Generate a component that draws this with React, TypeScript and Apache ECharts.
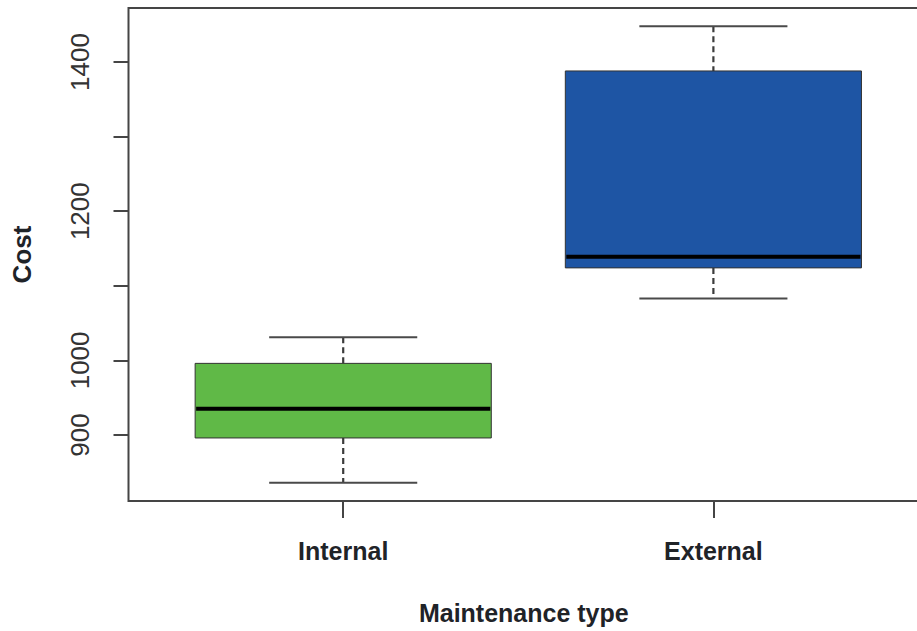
import React, { useEffect, useRef } from "react";
import * as echarts from "echarts";

const categories = ["Internal", "External"];
const lowerWhisker = [836, 1083];
const lowerQuartile = [896, 1124];
const medianValue = [935, 1139];
const upperQuartile = [996, 1388];
const upperWhisker = [1031, 1448];
const boxColors = ["#60B947", "#1E55A4"];

const yTickValues = [900, 1000, 1100, 1200, 1300, 1400];
const yLabelValues = [900, 1000, 1200, 1400];
const xTickValues = [1, 2];

export default function App() {
  const ref = useRef<HTMLDivElement>(null);
  useEffect(() => {
    document.body.style.margin = "0";
    const chart = echarts.init(ref.current!, null, { renderer: "svg" });
    const data = categories.map((c, i) => [
      i + 1,
      lowerWhisker[i],
      lowerQuartile[i],
      medianValue[i],
      upperQuartile[i],
      upperWhisker[i],
    ]);
    const font = "'Liberation Sans', Arial, sans-serif";
    const option: any = {
      animation: false,
      backgroundColor: "#ffffff",
      grid: {
        left: 128.5,
        top: 8,
        width: 799.6,
        height: 493,
        show: true,
        borderColor: "#454545",
        borderWidth: 2,
        backgroundColor: "transparent",
        outerBoundsMode: "none",
        containLabel: false,
      },
      xAxis: {
        type: "value",
        min: 0.42,
        max: 2.58,
        axisLine: { show: false },
        splitLine: { show: false },
        axisTick: {
          show: true,
          customValues: xTickValues,
          length: 17,
          lineStyle: { color: "#454545", width: 2 },
        },
        axisLabel: {
          customValues: xTickValues,
          formatter: (v: number) => categories[Math.round(v) - 1] ?? "",
          fontFamily: font,
          fontWeight: "bold",
          fontSize: 25,
          color: "#1f2328",
          margin: 37,
        },
        name: "Maintenance type",
        nameLocation: "middle",
        nameGap: 99,
        nameMoveOverlap: false,
        nameTextStyle: {
          fontFamily: font,
          fontWeight: "bold",
          fontSize: 25,
          color: "#1f2328",
          padding: [0, 9, 0, 0],
        },
      },
      yAxis: {
        type: "value",
        min: 811.5,
        max: 1472.4,
        axisLine: { show: false },
        splitLine: { show: false },
        axisTick: {
          show: true,
          customValues: yTickValues,
          length: 15,
          lineStyle: { color: "#454545", width: 2 },
        },
        axisLabel: {
          customValues: yLabelValues,
          formatter: (v: number) => String(v),
          rotate: 90,
          fontFamily: font,
          fontSize: 26,
          color: "#333333",
          margin: 36,
        },
        name: "Cost",
        nameLocation: "middle",
        nameGap: 94,
        nameMoveOverlap: false,
        nameTextStyle: {
          fontFamily: font,
          fontWeight: "bold",
          fontSize: 26,
          color: "#1f2328",
        },
      },
      series: [
        {
          type: "custom",
          data,
          encode: { x: 0, y: [1, 2, 3, 4, 5] },
          renderItem: (params: any, api: any) => {
            const x = api.value(0);
            const lo = api.coord([x, api.value(1)]);
            const q1 = api.coord([x, api.value(2)]);
            const md = api.coord([x, api.value(3)]);
            const q3 = api.coord([x, api.value(4)]);
            const hi = api.coord([x, api.value(5)]);
            const halfBox = api.size([0.8, 0])[0] / 2;
            const halfCap = api.size([0.4, 0])[0] / 2;
            const cx = lo[0];
            const color = boxColors[params.dataIndex];
            const whisk = { stroke: "#3c3c3c", lineWidth: 2.2, lineDash: [6, 4] };
            const cap = { stroke: "#4a4a4a", lineWidth: 2 };
            return {
              type: "group",
              children: [
                { type: "line", shape: { x1: cx, y1: hi[1], x2: cx, y2: q3[1] }, style: whisk },
                { type: "line", shape: { x1: cx, y1: q1[1], x2: cx, y2: lo[1] }, style: whisk },
                { type: "line", shape: { x1: cx - halfCap, y1: hi[1], x2: cx + halfCap, y2: hi[1] }, style: cap },
                { type: "line", shape: { x1: cx - halfCap, y1: lo[1], x2: cx + halfCap, y2: lo[1] }, style: cap },
                {
                  type: "rect",
                  shape: { x: cx - halfBox, y: q3[1], width: halfBox * 2, height: q1[1] - q3[1] },
                  style: { fill: color, stroke: "#333333", lineWidth: 1 },
                },
                {
                  type: "line",
                  shape: { x1: cx - halfBox + 1, y1: md[1], x2: cx + halfBox - 1, y2: md[1] },
                  style: { stroke: "#000000", lineWidth: 4 },
                },
              ],
            };
          },
        },
      ],
    };
    chart.setOption(option);
    return () => chart.dispose();
  }, []);
  return (
    <div
      ref={ref}
      style={{ position: "absolute", left: 0, top: 0, width: 917, height: 631 }}
    />
  );
}
